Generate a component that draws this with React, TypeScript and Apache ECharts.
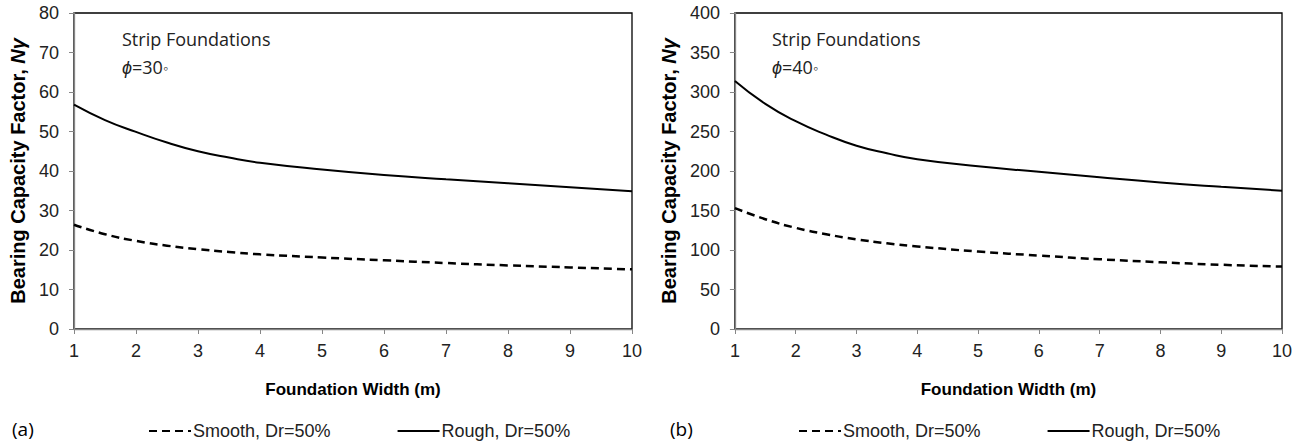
import React, { useEffect, useRef } from "react";
import * as echarts from "echarts";

const widths = [1, 1.5, 2, 2.5, 3, 3.5, 4, 5, 6, 7, 8, 9, 10];
const smooth30 = [26.4, 24.0, 22.3, 21.1, 20.2, 19.5, 18.9, 18.1, 17.4, 16.7, 16.1, 15.6, 15.1];
const rough30 = [56.8, 52.9, 49.9, 47.2, 45.0, 43.4, 42.1, 40.4, 39.0, 37.9, 36.9, 35.9, 34.9];
const smooth40 = [153, 139, 128, 120, 113.5, 108.5, 104.5, 98, 93, 88.3, 84.5, 81.3, 79];
const rough40 = [314, 285, 263, 246, 232, 222.5, 215, 206, 199, 192, 185.5, 180, 175];
const seriesNames = ["Smooth, Dr=50%", "Rough, Dr=50%"];
const panelLabels = ["(a)", "(b)"];
const phiLabels = ["30", "40"];
const yMax = [80, 400];
const yStep = [10, 50];

const FONT = "'Liberation Sans', Arial, sans-serif";
const NOTE = "'Open Sans', sans-serif";

function buildOption(idx: number, smooth: number[], rough: number[], gridLeft: number, gridWidth: number, legendLeft: number, labelLeft: number, annoLeft: number) {
  const toPairs = (vals: number[]) => widths.map((w, i) => [w, vals[i]]);
  return {
    animation: false,
    grid: {
      left: gridLeft, top: 13, width: gridWidth, height: 316,
      show: true, borderColor: "#000", borderWidth: 1.3, backgroundColor: "transparent",
    },
    xAxis: {
      type: "value", min: 1, max: 10, interval: 1,
      name: "Foundation Width (m)", nameLocation: "middle", nameGap: 52,
      nameTextStyle: { fontFamily: FONT, fontWeight: "bold", fontSize: 17, color: "#000" },
      axisLine: { show: true, onZero: false, lineStyle: { color: "#868686", width: 1.3 } },
      axisTick: { show: true, length: 5, lineStyle: { color: "#868686" } },
      axisLabel: { fontFamily: FONT, fontSize: 18, color: "#222", margin: 13 },
      splitLine: { show: false },
    },
    yAxis: {
      type: "value", min: 0, max: yMax[idx], interval: yStep[idx],
      name: "Bearing Capacity Factor, {i|Nγ}", nameLocation: "middle", nameGap: 46,
      nameRotate: 90,
      nameTextStyle: {
        fontFamily: FONT, fontWeight: "bold", fontSize: 20, color: "#000",
        rich: { i: { fontFamily: FONT, fontWeight: "bold", fontStyle: "italic", fontSize: 20, color: "#000" } },
      },
      axisLine: { show: true, lineStyle: { color: "#868686", width: 1.3 } },
      axisTick: { show: true, length: 5, lineStyle: { color: "#868686" } },
      axisLabel: { fontFamily: FONT, fontSize: 18, color: "#222", margin: 15 },
      splitLine: { show: false },
    },
    legend: {
      left: legendLeft, top: 422, padding: 0, itemWidth: 42, itemHeight: 12, itemGap: 66,
      itemStyle: { opacity: 0 },
      textStyle: { fontFamily: FONT, fontSize: 18, color: "#222", padding: [0, 0, 0, -3] },
      data: seriesNames,
    },
    graphic: [
      { type: "text", left: labelLeft, top: 419, style: { text: panelLabels[idx], fontFamily: NOTE, fontSize: 19, fill: "#000" } },
      { type: "text", left: annoLeft, top: 30, style: { text: "Strip Foundations", fontFamily: NOTE, fontSize: 18, fill: "#222" } },
      {
        type: "text", left: annoLeft, top: 58,
        style: {
          text: "{p|ϕ}=" + phiLabels[idx] + "{d|◦}",
          fontFamily: NOTE, fontSize: 18, fill: "#222",
          rich: {
            p: { fontFamily: NOTE, fontStyle: "italic", fontSize: 18, fill: "#222" },
            d: { fontFamily: NOTE, fontSize: 14, fill: "#222" },
          },
        },
      },
    ],
    series: [
      {
        name: seriesNames[0], type: "line", smooth: true, symbol: "none",
        data: toPairs(smooth),
        lineStyle: { color: "#000", width: 2.5, type: [8, 5] },
        itemStyle: { color: "#000" },
      },
      {
        name: seriesNames[1], type: "line", smooth: true, symbol: "none",
        data: toPairs(rough),
        lineStyle: { color: "#000", width: 2 },
        itemStyle: { color: "#000" },
      },
    ],
  };
}

function Panel(props: { idx: number; left: number; width: number; smooth: number[]; rough: number[]; gridLeft: number; gridWidth: number; legendLeft: number; labelLeft: number; annoLeft: number }) {
  const ref = useRef<HTMLDivElement>(null);
  useEffect(() => {
    if (!ref.current) return;
    const chart = echarts.init(ref.current, undefined, { renderer: "svg" });
    chart.setOption(buildOption(props.idx, props.smooth, props.rough, props.gridLeft, props.gridWidth, props.legendLeft, props.labelLeft, props.annoLeft));
    return () => chart.dispose();
  }, []);
  return <div ref={ref} style={{ position: "absolute", left: props.left, top: 0, width: props.width, height: 446 }} />;
}

export default function App() {
  return (
    <div style={{ position: "fixed", left: 0, top: 0, width: 1303, height: 446, background: "#fff" }}>
      <Panel idx={0} left={0} width={651} smooth={smooth30} rough={rough30} gridLeft={73} gridWidth={559} legendLeft={148} labelLeft={12} annoLeft={122} />
      <Panel idx={1} left={651} width={652} smooth={smooth40} rough={rough40} gridLeft={82} gridWidth={549} legendLeft={147} labelLeft={19} annoLeft={121} />
    </div>
  );
}
